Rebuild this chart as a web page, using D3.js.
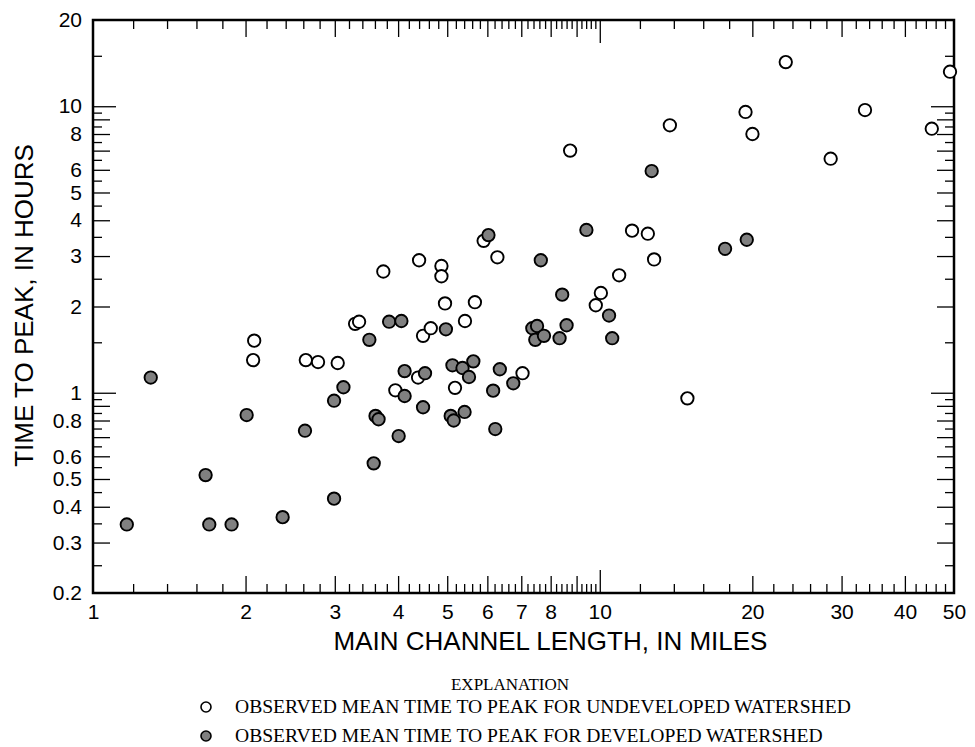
<!DOCTYPE html>
<html>
<head>
<meta charset="utf-8">
<script src="https://cdn.jsdelivr.net/npm/d3@7"></script>
<style>
  html, body { margin: 0; padding: 0; background: #fff; }
  svg { display: block; }
</style>
</head>
<body>
<svg id="chart" width="975" height="747"></svg>
<script>
// ---- DATA ----
// Undeveloped watersheds: main channel length (mi), mean time to peak (h)
const undevLength = [2.08, 2.07, 2.63, 2.78, 3.04, 3.29, 3.35, 3.74, 4.40, 4.48, 4.64, 4.87, 4.87, 4.95,
  5.42, 5.67, 5.90, 6.28, 4.38, 3.95, 5.18, 7.04, 8.74, 9.82, 10.05, 10.92, 11.58, 12.44, 12.80,
  13.75, 14.89, 19.39, 20.01, 23.28, 28.55, 33.37, 45.2, 49.1];
const undevTime = [1.52, 1.30, 1.30, 1.28, 1.27, 1.74, 1.77, 2.65, 2.90, 1.58, 1.68, 2.77, 2.55, 2.05,
  1.78, 2.07, 3.39, 2.97, 1.13, 1.02, 1.04, 1.17, 7.00, 2.02, 2.23, 2.57, 3.68, 3.59, 2.92,
  8.58, 0.956, 9.55, 8.00, 14.26, 6.56, 9.70, 8.35, 13.2];

// Developed watersheds
const devLength = [1.166, 1.30, 1.668, 1.696, 1.877, 2.01, 2.367, 2.62, 2.99, 2.99, 3.12, 3.51, 3.58,
  3.61, 3.66, 3.84, 4.06, 4.01, 4.12, 4.12, 4.48, 4.52, 4.97, 5.08, 5.15, 5.12, 5.36, 5.41, 5.52,
  5.63, 6.03, 6.16, 6.22, 6.35, 6.75, 7.36, 7.52, 7.46, 7.65, 7.76, 8.33, 8.43, 8.60, 9.41, 10.43,
  10.58, 12.66, 17.67, 19.50];
const devTime = [0.347, 1.13, 0.516, 0.347, 0.347, 0.836, 0.368, 0.737, 0.938, 0.427, 1.045, 1.53, 0.567,
  0.83, 0.808, 1.77, 1.78, 0.706, 1.19, 0.974, 0.89, 1.17, 1.665, 0.83, 0.80, 1.247, 1.22, 0.857, 1.135,
  1.287, 3.55, 1.017, 0.747, 1.208, 1.079, 1.68, 1.71, 1.53, 2.90, 1.58, 1.55, 2.20, 1.72, 3.70, 1.86,
  1.55, 5.94, 3.18, 3.42];

// Axis ticks
const xDomain = [1, 50];
const yDomain = [0.2, 20];
const xLabelTicks = [1, 2, 3, 4, 5, 6, 7, 8, 10, 20, 30, 40, 50];
const yLabelTicks = [0.2, 0.3, 0.4, 0.5, 0.6, 0.8, 1, 2, 3, 4, 5, 6, 8, 10, 20];
const xMajorTicks = [2, 3, 4, 5, 6, 7, 8, 9, 20, 30, 40];
const xDecadeTicks = [10];
const xMinorTicks = [1.2, 1.4, 1.6, 1.8, 2.2, 2.4, 2.6, 2.8, 3.2, 3.4, 3.6, 3.8, 4.2, 4.4, 4.6, 4.8,
  5.2, 5.4, 5.6, 5.8, 6.2, 6.4, 6.6, 6.8, 7.2, 7.4, 7.6, 7.8, 8.2, 8.4, 8.6, 8.8, 9.2, 9.4, 9.6, 9.8,
  12, 14, 16, 18, 22, 24, 26, 28, 32, 34, 36, 38, 42, 44, 46, 48];
const yMajorTicks = [0.3, 0.4, 0.5, 0.6, 0.7, 0.8, 0.9, 2, 3, 4, 5, 6, 7, 8, 9];
const yDecadeTicks = [1, 10];
const yMinorTicks = [0.25, 0.35, 0.45, 0.55, 0.65, 0.75, 0.85, 0.95, 1.5,
  2.5, 3.5, 4.5, 5.5, 6.5, 7.5, 8.5, 9.5, 15];

const xTitle = "MAIN CHANNEL LENGTH, IN MILES";
const yTitle = "TIME TO PEAK, IN HOURS";
const legendTitle = "EXPLANATION";
const legendLabels = ["OBSERVED MEAN TIME TO PEAK FOR UNDEVELOPED WATERSHED",
                      "OBSERVED MEAN TIME TO PEAK FOR DEVELOPED WATERSHED"];

// ---- LAYOUT ----
const M = { left: 93, right: 954, top: 20, bottom: 593 };
const sansFont = "'Liberation Sans', Arial, Helvetica, sans-serif";
const serifFont = "'Liberation Serif', 'Times New Roman', serif";
const grayFill = "#808080";

const svg = d3.select("#chart");
const x = d3.scaleLog().domain(xDomain).range([M.left, M.right]);
const y = d3.scaleLog().domain(yDomain).range([M.bottom, M.top]);

function tickAxis(axisFn, scale, values, len, transform) {
  const g = svg.append("g").attr("transform", transform)
    .call(axisFn(scale).tickValues(values).tickSize(-len).tickFormat(""));
  g.select(".domain").remove();
  g.selectAll(".tick line").attr("stroke", "#000").attr("stroke-width", 1.3);
  return g;
}

const sets = [[xMinorTicks, 9], [xMajorTicks, 17], [xDecadeTicks, 23]];
sets.forEach(([vals, len]) => {
  tickAxis(d3.axisBottom, x, vals, len, `translate(0,${M.bottom})`);
  tickAxis(d3.axisTop, x, vals, len, `translate(0,${M.top})`);
});
const ysets = [[yMinorTicks, 9], [yMajorTicks, 17], [yDecadeTicks, 23]];
ysets.forEach(([vals, len]) => {
  tickAxis(d3.axisLeft, y, vals, len, `translate(${M.left},0)`);
  tickAxis(d3.axisRight, y, vals, len, `translate(${M.right},0)`);
});

// Frame
svg.append("rect")
  .attr("x", M.left).attr("y", M.top)
  .attr("width", M.right - M.left).attr("height", M.bottom - M.top)
  .attr("fill", "none").attr("stroke", "#000").attr("stroke-width", 2.5);

// Tick labels
const fmt = d => String(d);
const xl = svg.append("g").attr("transform", `translate(0,${M.bottom})`)
  .call(d3.axisBottom(x).tickValues(xLabelTicks).tickSize(0).tickPadding(11).tickFormat(fmt));
xl.select(".domain").remove();
xl.selectAll("text").attr("font-family", sansFont).attr("font-size", 21).attr("fill", "#000");

const yl = svg.append("g").attr("transform", `translate(${M.left},0)`)
  .call(d3.axisLeft(y).tickValues(yLabelTicks).tickSize(0).tickPadding(11).tickFormat(fmt));
yl.select(".domain").remove();
yl.selectAll("text").attr("font-family", sansFont).attr("font-size", 21).attr("fill", "#000");

// Axis titles
svg.append("text")
  .attr("x", (M.left + M.right) / 2 + 27).attr("y", 650)
  .attr("text-anchor", "middle")
  .attr("font-family", sansFont).attr("font-size", 26)
  .text(xTitle);

svg.append("text")
  .attr("transform", `translate(33,${(M.top + M.bottom) / 2 - 1}) rotate(-90)`)
  .attr("text-anchor", "middle")
  .attr("font-family", sansFont).attr("font-size", 26)
  .text(yTitle);

// Points
const undev = undevLength.map((d, i) => ({ x: d, y: undevTime[i] }));
const dev = devLength.map((d, i) => ({ x: d, y: devTime[i] }));

svg.append("g").selectAll("circle").data(undev).join("circle")
  .attr("cx", d => x(d.x)).attr("cy", d => y(d.y)).attr("r", 6.2)
  .attr("fill", "#fff").attr("stroke", "#000").attr("stroke-width", 1.9);

svg.append("g").selectAll("circle").data(dev).join("circle")
  .attr("cx", d => x(d.x)).attr("cy", d => y(d.y)).attr("r", 6.2)
  .attr("fill", grayFill).attr("stroke", "#000").attr("stroke-width", 1.9);

// Legend
svg.append("text")
  .attr("x", 510).attr("y", 690)
  .attr("text-anchor", "middle")
  .attr("font-family", serifFont).attr("font-size", 17)
  .text(legendTitle);

const legendRows = [
  { label: legendLabels[0], fill: "#fff", cy: 707 },
  { label: legendLabels[1], fill: grayFill, cy: 736 }
];
const lg = svg.append("g");
legendRows.forEach(r => {
  lg.append("circle").attr("cx", 206).attr("cy", r.cy).attr("r", 5)
    .attr("fill", r.fill).attr("stroke", "#000").attr("stroke-width", 1.6);
  lg.append("text").attr("x", 235).attr("y", r.cy + 6)
    .attr("font-family", serifFont).attr("font-size", 19.6)
    .text(r.label);
});
</script>
</body>
</html>
